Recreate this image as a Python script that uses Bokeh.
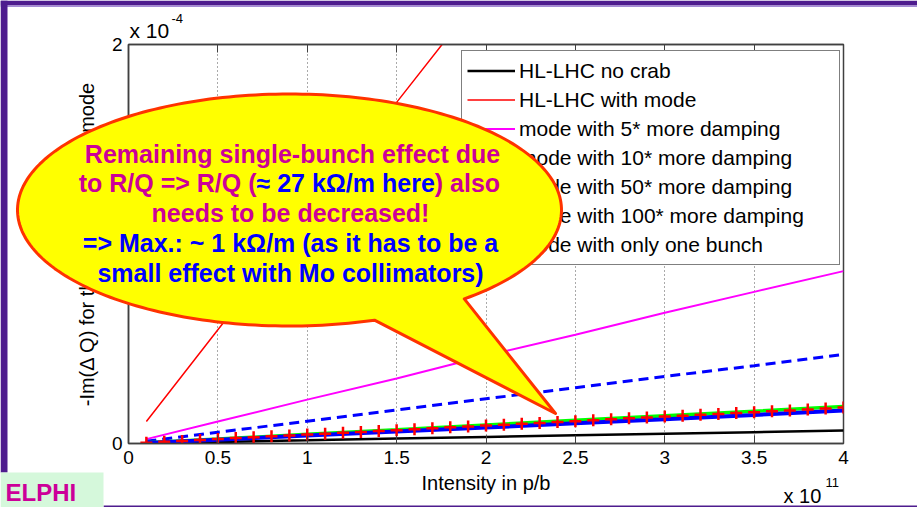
import math
import numpy as np
from bokeh.plotting import figure
from bokeh.layouts import column
from bokeh.core.properties import value
from bokeh.models import (Range1d, FixedTicker, LinearAxis, CustomJSTickFormatter,
                          Legend, LegendItem)
from bokeh.embed import file_html
from bokeh.resources import INLINE

# ---------------- data (x in 1e11 p/b, y in 1e-4) ----------------
intensity = [0.1, 0.5, 1.0, 1.5, 2.0, 2.5, 3.0, 3.5, 4.0]
no_crab = [0.002, 0.008, 0.016, 0.025, 0.033, 0.041, 0.049, 0.057, 0.065]
with_mode = [0.11, 0.57, 1.14, 1.71, 2.28, 2.85, 3.42, 3.99, 4.56]
damp5 = [0.022, 0.110, 0.220, 0.326, 0.440, 0.545, 0.655, 0.760, 0.864]
damp10 = [0.011, 0.056, 0.112, 0.168, 0.224, 0.280, 0.336, 0.390, 0.446]
damp50 = [0.004, 0.022, 0.046, 0.069, 0.093, 0.116, 0.139, 0.162, 0.185]
damp100 = [0.003, 0.019, 0.040, 0.060, 0.080, 0.101, 0.122, 0.143, 0.165]

intensity_fine = [0.1, 0.2, 0.3, 0.4, 0.5, 0.6, 0.7, 0.8, 0.9, 1.0,
                  1.1, 1.2, 1.3, 1.4, 1.5, 1.6, 1.7, 1.8, 1.9, 2.0,
                  2.1, 2.2, 2.3, 2.4, 2.5, 2.6, 2.7, 2.8, 2.9, 3.0,
                  3.1, 3.2, 3.3, 3.4, 3.5, 3.6, 3.7, 3.8, 3.9, 4.0]
one_bunch = [0.004, 0.009, 0.013, 0.018, 0.022, 0.027, 0.031, 0.036, 0.040, 0.045,
             0.049, 0.054, 0.058, 0.063, 0.067, 0.072, 0.076, 0.081, 0.085, 0.090,
             0.094, 0.099, 0.103, 0.108, 0.112, 0.117, 0.121, 0.126, 0.130, 0.135,
             0.139, 0.144, 0.148, 0.153, 0.157, 0.162, 0.166, 0.171, 0.175, 0.180]

x_ticks = [0, 0.5, 1, 1.5, 2, 2.5, 3, 3.5, 4]
y_ticks = [0, 2]

series_labels = ["HL-LHC no crab", "HL-LHC with mode", "mode with 5* more damping",
                 "mode with 10* more damping", "mode with 50* more damping",
                 "mode with 100* more damping", "mode with only one bunch"]

FONT = "Liberation Sans"
W, H = 917, 507

# ---------------- chart figure ----------------
p = figure(width=W, height=H, output_backend="svg", toolbar_location=None,
           x_range=Range1d(0, 4), y_range=Range1d(0, 2),
           min_border_left=128, min_border_right=74, min_border_top=44, min_border_bottom=64,
           background_fill_color="white", border_fill_color="white",
           outline_line_color="#404040", outline_line_width=1.5, frame_align=False)

num_fmt = CustomJSTickFormatter(code="return String(tick);")

xa = p.xaxis[0]
xa.ticker = FixedTicker(ticks=x_ticks)
xa.formatter = num_fmt
xa.axis_label = "Intensity in p/b"
ya = p.yaxis[0]
ya.ticker = FixedTicker(ticks=y_ticks)
ya.formatter = num_fmt
ya.axis_label = "-Im(\u0394 Q) for the most unstable mode"

top_axis = LinearAxis(ticker=FixedTicker(ticks=x_ticks),
                      formatter=CustomJSTickFormatter(code="return '';"))
p.add_layout(top_axis, "above")

for ax in (xa, ya, top_axis):
    ax.major_tick_in = 8
    ax.major_tick_out = 0
    ax.minor_tick_line_color = None
    ax.axis_line_color = "#404040"
    ax.axis_line_width = 1.5
    ax.major_tick_line_color = "#404040"
    ax.major_label_text_font = FONT
    ax.major_label_text_font_size = "19px"
    ax.major_label_text_color = "black"
    ax.axis_label_text_font = FONT
    ax.axis_label_text_font_size = "20px"
    ax.axis_label_text_font_style = "normal"
    ax.axis_label_text_color = "black"
xa.major_label_standoff = 7
xa.axis_label_standoff = 5
ya.major_label_standoff = 6
ya.axis_label_standoff = 11
top_axis.major_label_standoff = 0

p.xgrid.ticker = FixedTicker(ticks=x_ticks)
p.xgrid.grid_line_color = "#555555"
p.xgrid.grid_line_dash = "1 3"
p.xgrid.grid_line_width = 1
p.ygrid.visible = False

r0 = p.line(intensity, no_crab, line_color="black", line_width=2.5)
r1 = p.line(intensity, with_mode, line_color="#FF0000", line_width=1.5)
r2 = p.line(intensity, damp5, line_color="#FF00FF", line_width=2)
r3 = p.line(intensity, damp10, line_color="#0000FF", line_width=3, line_dash="10 6")
r4 = p.line(intensity, damp50, line_color="#00FF00", line_width=3.5)
r5 = p.line(intensity, damp100, line_color="#0000FF", line_width=4)
r6 = p.scatter(intensity_fine, one_bunch, marker="cross", size=12,
               line_color="#FF0000", line_width=2.5)

legend = Legend(items=[LegendItem(label=lab, renderers=[r])
                       for lab, r in zip(series_labels, [r0, r1, r2, r3, r4, r5, r6])],
                location=(333, 178), orientation="vertical",
                label_text_font=FONT, label_text_font_size="21px", label_text_color="black",
                glyph_width=48, glyph_height=29, label_height=29, label_width=315,
                label_standoff=4, spacing=0, padding=5, margin=0,
                border_line_color="black", border_line_width=1,
                background_fill_color="white", background_fill_alpha=1.0)
p.add_layout(legend)

# ---------------- slide overlay (transparent figure in page-pixel coordinates) ----------------
q = figure(width=W, height=H, output_backend="svg", toolbar_location=None,
           x_range=Range1d(0, W), y_range=Range1d(H, 0),
           x_axis_type=None, y_axis_type=None, min_border=0, frame_align=False,
           background_fill_alpha=0, border_fill_alpha=0, outline_line_color=None,
           styles={"position": "absolute", "left": "0px", "top": "0px", "z-index": "5"})
q.xgrid.visible = False
q.ygrid.visible = False

PURPLE = "#4E1C8E"
# slide frame bands
q.quad(left=[0], right=[W], top=[0], bottom=[5], fill_color=PURPLE, line_color=None)
q.quad(left=[0], right=[W], top=[5], bottom=[6.5], fill_color="#A58BD6", line_color=None)
q.quad(left=[0], right=[7], top=[0], bottom=[472], fill_color=PURPLE, line_color=None)
q.quad(left=[103], right=[W], top=[505], bottom=[H], fill_color=PURPLE, line_color=None)
# logo corner
q.quad(left=[0], right=[103], top=[472], bottom=[H], fill_color="#D5F8DB", line_color=None)

# callout bubble: ellipse + pointer
cx, cy, a, b = 289.0, 209.5, 272.0, 116.0
t1 = math.atan2((321 - cy) / b, (375 - cx) / a)
t2 = math.atan2((299 - cy) / b, (465 - cx) / a) + 2 * math.pi
ts = np.linspace(t1, t2, 240)
bx = [cx + a * math.cos(t) for t in ts] + [555]
by = [cy + b * math.sin(t) for t in ts] + [413]
q.patch(bx, by, fill_color="#FFFF00", fill_alpha=1.0, line_color="#FF3300",
        line_width=3, line_join="round")

MAG = "#CC0099"
BLU = "#0000FF"
FS = 25

def txt(x, y, s, color, align="center", size=FS, bold=True):
    # y is the vertical centre of the capital letters
    q.text(x=[x], y=[y], text=[s], text_font=value(FONT),
           text_font_size=value(f"{size}px"),
           text_font_style=value("bold" if bold else "normal"),
           text_color=color, text_align=align, text_baseline="middle")

txt(292, 153, "Remaining single-bunch effect due", MAG)
split_x = 256.0
blue_part = "\u2248 27 k\u03a9/m here"
w_bold = {"\u2248": 0.584, " ": 0.278, "2": 0.556, "7": 0.556, "k": 0.556, "\u03a9": 0.768,
          "/": 0.278, "m": 0.889, "h": 0.611, "e": 0.556, "r": 0.389}
blue_w = sum(w_bold[c] for c in blue_part) * FS
txt(split_x, 182, "to R/Q => R/Q (", MAG, align="right")
txt(split_x, 182, blue_part, BLU, align="left")
txt(split_x + blue_w, 182, ") also", MAG, align="left")
txt(290, 212.5, "needs to be decreased!", MAG)
txt(290, 242, "=> Max.: ~ 1 k\u03a9/m (as it has to be a", BLU)
txt(290, 272.5, "small effect with Mo collimators)", BLU)

# axis multipliers
txt(129, 29.5, "x 10", "black", align="left", size=21, bold=False)
txt(171, 17.5, "-4", "black", align="left", size=13, bold=False)
txt(783, 495, "x 10", "black", align="left", size=20, bold=False)
txt(825, 482, "11", "black", align="left", size=13, bold=False)

# logo text
txt(5, 492, "ELPHI", MAG, align="left", size=24)

layout = column(p, q)
open("out.html", "w").write(file_html(layout, INLINE))
